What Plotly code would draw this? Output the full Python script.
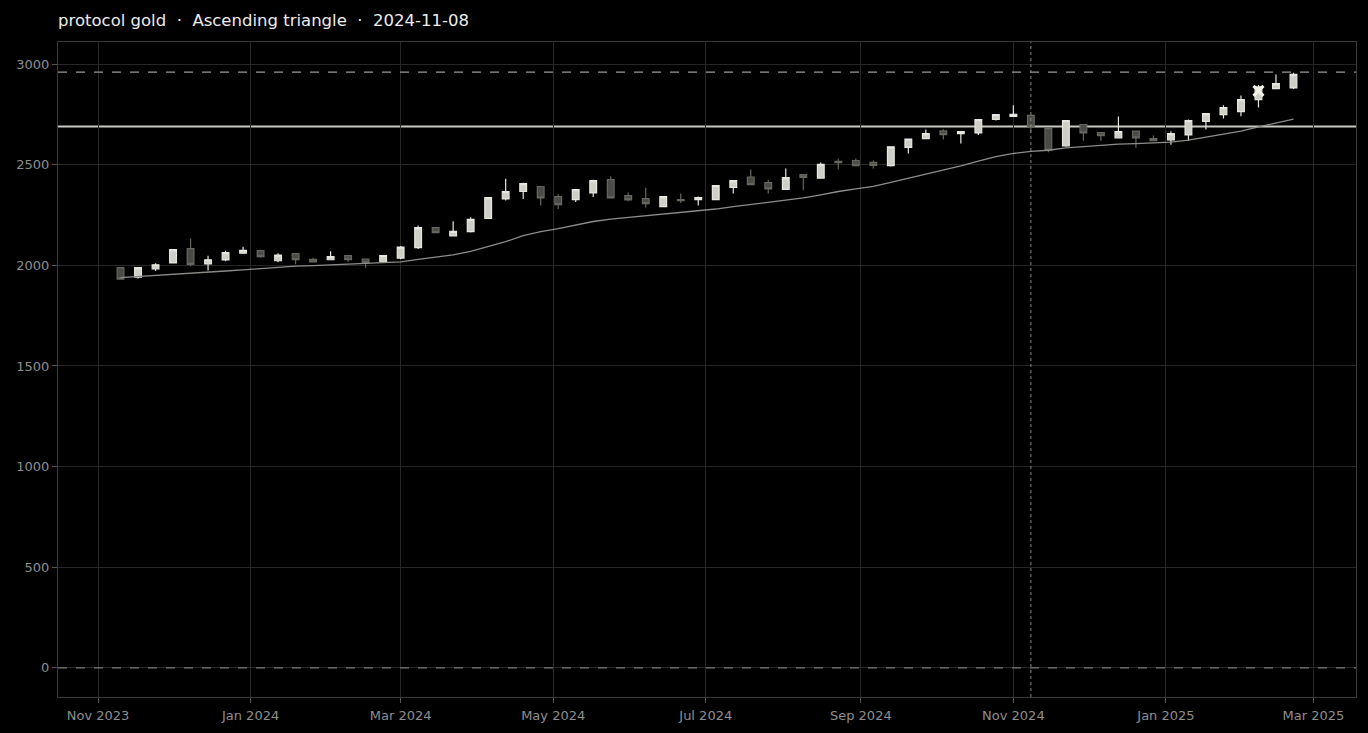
import plotly.graph_objects as go
import pandas as pd

dates = pd.date_range("2023-11-10", periods=68, freq="7D")

opens = [1989, 1942, 1982, 2012, 2083, 2007, 2027, 2061, 2073, 2023,
         2058, 2030, 2028, 2048, 2031, 2018, 2036, 2088, 2188, 2146,
         2168, 2234, 2330, 2367, 2392, 2342, 2327, 2360, 2426, 2347,
         2332, 2292, 2327, 2327, 2327, 2387, 2439, 2411, 2378, 2451,
         2434, 2517, 2521, 2512, 2496, 2586, 2630, 2668, 2655, 2658,
         2725, 2740, 2745, 2680, 2594, 2700, 2660, 2634, 2667, 2630,
         2624, 2648, 2715, 2749, 2764, 2824, 2878, 2882]
highs = [1990, 1990, 2010, 2080, 2133, 2048, 2073, 2093, 2078, 2060,
         2060, 2038, 2070, 2050, 2033, 2050, 2096, 2198, 2190, 2219,
         2239, 2340, 2431, 2410, 2395, 2353, 2380, 2425, 2443, 2362,
         2386, 2344, 2357, 2342, 2399, 2423, 2476, 2426, 2481, 2453,
         2511, 2531, 2531, 2521, 2591, 2630, 2675, 2677, 2667, 2727,
         2752, 2796, 2748, 2682, 2722, 2702, 2662, 2740, 2669, 2645,
         2667, 2725, 2756, 2796, 2844, 2896, 2949, 2957]
lows = [1930, 1935, 1972, 2010, 1996, 1975, 2020, 2056, 2038, 2016,
        2005, 2014, 2025, 2018, 1988, 2016, 2031, 2081, 2160, 2145,
        2163, 2230, 2322, 2330, 2297, 2280, 2315, 2340, 2333, 2318,
        2287, 2290, 2310, 2298, 2325, 2357, 2398, 2357, 2375, 2373,
        2432, 2476, 2491, 2481, 2491, 2556, 2628, 2625, 2605, 2648,
        2720, 2738, 2665, 2562, 2590, 2619, 2619, 2632, 2585, 2617,
        2599, 2619, 2675, 2730, 2741, 2784, 2876, 2877]
closes = [1932, 1989, 2003, 2078, 2005, 2028, 2063, 2075, 2043, 2051,
          2028, 2017, 2043, 2028, 2012, 2048, 2091, 2188, 2163, 2169,
          2229, 2337, 2367, 2406, 2335, 2302, 2377, 2421, 2335, 2325,
          2307, 2342, 2322, 2337, 2397, 2421, 2401, 2380, 2436, 2437,
          2502, 2510, 2496, 2497, 2589, 2628, 2655, 2650, 2665, 2724,
          2749, 2751, 2690, 2572, 2720, 2658, 2644, 2665, 2634, 2620,
          2655, 2720, 2754, 2784, 2824, 2887, 2903, 2949]
trend = [1939, 1944, 1950, 1957, 1962, 1966, 1972, 1978, 1984, 1991,
         1996, 1999, 2002, 2005, 2008, 2011, 2017, 2030, 2042, 2052,
         2070, 2095, 2118, 2148, 2168, 2183, 2200, 2218, 2230, 2238,
         2246, 2254, 2262, 2269, 2280, 2292, 2302, 2312, 2322, 2335,
         2350, 2367, 2380, 2392, 2412, 2432, 2455, 2475, 2495, 2518,
         2540, 2556, 2566, 2572, 2584, 2590, 2597, 2602, 2605, 2608,
         2612, 2622, 2636, 2650, 2667, 2688, 2706, 2727]

resistance = 2690
target = 2960
signal_date = "2024-11-08"
marker_date = ["2025-02-07"]
marker_value = [2867]

fig = go.Figure()

fig.add_trace(go.Scatter(x=dates, y=trend, mode="lines",
                         line=dict(color="#8c8c88", width=1.3),
                         hoverinfo="skip", showlegend=False))

fig.add_trace(go.Candlestick(
    x=dates, open=opens, high=highs, low=lows, close=closes,
    increasing=dict(line=dict(color="#e6e6de", width=1.2), fillcolor="#cfcfc7"),
    decreasing=dict(line=dict(color="#66665f", width=1.2), fillcolor="#4a4a46"),
    showlegend=False))

fig.add_trace(go.Scatter(x=marker_date, y=marker_value, mode="markers",
                         marker=dict(symbol="x-thin", size=10,
                                     line=dict(width=3, color="#f2f2ea")),
                         showlegend=False))

fig.add_hline(y=resistance, line=dict(color="#c8c8c0", width=2), layer="below")
fig.add_hline(y=target, line=dict(color="#9a9a9a", width=1.3, dash="dash"))
fig.add_hline(y=0, line=dict(color="#7a7a7a", width=1.3, dash="dash"))
fig.add_vline(x=signal_date, line=dict(color="#8a8a8a", width=1, dash="dot"))

axis_style = dict(showgrid=True, gridcolor="#262626", gridwidth=1,
                  showline=True, linecolor="#3a3a3a", mirror=True,
                  ticks="outside", ticklen=5, tickcolor="#555555",
                  tickfont=dict(color="#8e8e8e", size=13),
                  zeroline=False, automargin=False)

fig.update_layout(
    width=1368, height=733,
    paper_bgcolor="#000000", plot_bgcolor="#000000",
    font=dict(family="DejaVu Sans", color="#8e8e8e"),
    title=dict(text="protocol gold  ·  Ascending triangle  ·  2024-11-08",
               x=58 / 1368, xanchor="left", y=1 - 20 / 733, yanchor="middle",
               font=dict(size=16.5, color="#ececec")),
    margin=dict(l=58, r=12, t=42, b=36, autoexpand=False),
    boxgap=0.45,
    xaxis=dict(range=["2023-10-16", "2025-03-18"], dtick="M2",
               tick0="2023-11-01", tickformat="%b %Y", ticklabelstandoff=1,
               rangeslider=dict(visible=False), **axis_style),
    yaxis=dict(range=[-145, 3110], dtick=500, **axis_style),
)

fig.write_html("out.html", config=dict(displayModeBar=False),
               post_script="document.body.style.margin='0';"
                           "document.body.style.background='#000';")
